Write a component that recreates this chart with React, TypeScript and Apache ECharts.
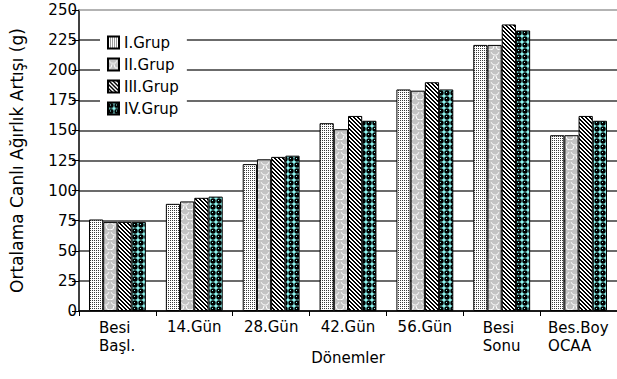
import React, { useEffect, useRef } from "react";
import * as echarts from "echarts";

const categories = ["Besi\nBaşl.", "14.Gün", "28.Gün", "42.Gün", "56.Gün", "Besi\nSonu", "Bes.Boy\nOCAA"];
const grup1 = [76, 89, 122, 156, 184, 221, 146];
const grup2 = [74, 91, 126, 151, 183, 221, 146];
const grup3 = [74, 94, 128, 162, 190, 238, 162];
const grup4 = [74, 95, 129, 158, 184, 233, 158];
const seriesNames = ["I.Grup", "II.Grup", "III.Grup", "IV.Grup"];
const yTitle = "Ortalama Canlı Ağırlık Artışı (g)";
const xTitle = "Dönemler";

const FONT = "DejaVu Sans";

type Painter = (ctx: CanvasRenderingContext2D, w: number, h: number) => void;

function makePattern(w: number, h: number, paint: Painter) {
  const c = document.createElement("canvas");
  c.width = w;
  c.height = h;
  const ctx = c.getContext("2d")!;
  paint(ctx, w, h);
  return {
    image: c.toDataURL(),
    repeat: "repeat" as const,
    imageWidth: w,
    imageHeight: h,
  };
}

// fine dot screen
const dots = () =>
  makePattern(2, 2, (ctx) => {
    ctx.fillStyle = "#ffffff";
    ctx.fillRect(0, 0, 2, 2);
    ctx.fillStyle = "#3a3a3a";
    ctx.fillRect(0, 0, 1, 1);
  });

// grey with white scale arcs
const scales = () =>
  makePattern(10, 10, (ctx) => {
    ctx.fillStyle = "#c3c3c3";
    ctx.fillRect(0, 0, 10, 10);
    ctx.strokeStyle = "#ffffff";
    ctx.lineWidth = 1;
    ctx.beginPath();
    ctx.arc(5, 1, 4, 0.1 * Math.PI, 0.9 * Math.PI);
    ctx.stroke();
    ctx.beginPath();
    ctx.arc(0, 6, 4, 0, 0.5 * Math.PI);
    ctx.stroke();
    ctx.beginPath();
    ctx.arc(10, 6, 4, 0.5 * Math.PI, Math.PI);
    ctx.stroke();
  });

// black diagonal hatching
const hatch = () =>
  makePattern(4, 4, (ctx) => {
    for (let y = 0; y < 4; y++) {
      for (let x = 0; x < 4; x++) {
        ctx.fillStyle = (x - y + 8) % 4 < 2 ? "#000000" : "#ffffff";
        ctx.fillRect(x, y, 1, 1);
      }
    }
  });

// cyan with black balls
const balls = () =>
  makePattern(6, 6, (ctx) => {
    ctx.fillStyle = "#8cf5f0";
    ctx.fillRect(0, 0, 6, 6);
    ctx.fillStyle = "#000000";
    ctx.beginPath();
    ctx.arc(3, 3, 2.7, 0, Math.PI * 2);
    ctx.fill();
    ctx.fillStyle = "#8cf5f0";
    ctx.fillRect(2, 2, 1, 1);
  });

const labelWidths: Record<string, number> = {
  "Besi\nBaşl.": 37,
  "Besi\nSonu": 38,
  "Bes.Boy\nOCAA": 61,
};

const richLine = (w: number) => ({
  width: w,
  align: "left",
  fontFamily: FONT,
  fontSize: 15,
  lineHeight: 18,
  color: "#000",
});

export default function App() {
  const ref = useRef<HTMLDivElement>(null);

  useEffect(() => {
    document.body.style.margin = "0";
    const chart = echarts.init(ref.current!, undefined, { renderer: "svg" });
    const fills = [dots(), scales(), hatch(), balls()];
    const values = [grup1, grup2, grup3, grup4];

    chart.setOption({
      animation: false,
      backgroundColor: "#ffffff",
      textStyle: { fontFamily: FONT, color: "#000" },
      grid: { left: 74, right: -1, top: 10, bottom: 68, containLabel: false },
      legend: {
        orient: "vertical",
        left: 100,
        top: 31,
        padding: [4, 8, 4, 7],
        itemWidth: 11,
        itemHeight: 12,
        itemGap: 7,
        icon: "rect",
        backgroundColor: "#ffffff",
        textStyle: { fontFamily: FONT, fontSize: 15, color: "#000" },
        data: seriesNames,
      },
      xAxis: [
        {
          type: "category",
          data: categories,
          position: "bottom",
          name: xTitle,
          nameLocation: "middle",
          nameGap: 39,
          nameMoveOverlap: false,
          nameTextStyle: { fontFamily: FONT, fontSize: 15, color: "#000" },
          axisLine: { lineStyle: { color: "#000", width: 1.5 } },
          axisTick: { show: true, length: 5, lineStyle: { color: "#000" } },
          axisLabel: {
            margin: 8,
            interval: 0,
            color: "#000",
            fontFamily: FONT,
            fontSize: 15,
            formatter: (v: string) => {
              if (v.indexOf("\n") < 0) return v;
              return v
                .split("\n")
                .map((s) => `{l${labelWidths[v]}|${s}}`)
                .join("\n");
            },
            rich: {
              l37: richLine(37),
              l38: richLine(38),
              l61: richLine(61),
            },
          },
        },
        {
          type: "category",
          data: categories,
          position: "top",
          axisLine: { show: true, lineStyle: { color: "#9a9a9a", width: 1.5 } },
          axisTick: { show: false },
          axisLabel: { show: false },
        },
      ],
      yAxis: {
        type: "value",
        min: 0,
        max: 250,
        interval: 25,
        name: yTitle,
        nameLocation: "middle",
        nameRotate: 90,
        nameGap: 54,
        nameMoveOverlap: false,
        nameTextStyle: { fontFamily: FONT, fontSize: 17, color: "#000" },
        axisLine: { show: true, lineStyle: { color: "#000", width: 1.5 } },
        axisTick: { show: true, length: 7, lineStyle: { color: "#000" } },
        axisLabel: { margin: 2, color: "#000", fontFamily: FONT, fontSize: 15 },
        splitLine: {
          show: true,
          showMaxLine: false,
          lineStyle: { color: "#3a3a3a", width: 1.5 },
        },
      },
      series: seriesNames.map((name, i) => ({
        name,
        type: "bar",
        data: values[i],
        barGap: "0%",
        barCategoryGap: "26%",
        itemStyle: { color: fills[i], borderColor: "#000", borderWidth: 1 },
      })),
    });

    return () => chart.dispose();
  }, []);

  return (
    <div
      ref={ref}
      style={{ position: "absolute", left: 0, top: 0, width: 617, height: 379 }}
    />
  );
}
